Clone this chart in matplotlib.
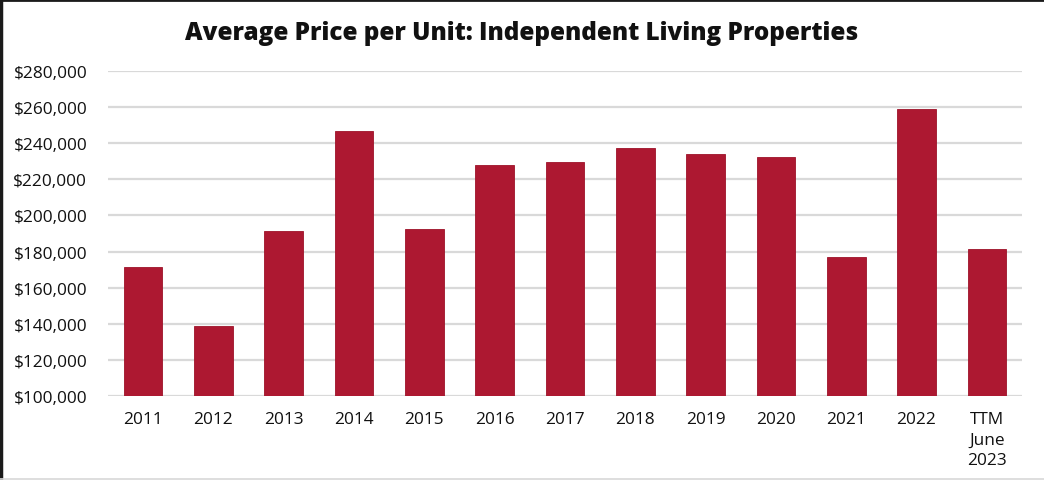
import matplotlib
matplotlib.use("Agg")
import matplotlib.pyplot as plt
from matplotlib.lines import Line2D
from matplotlib.ticker import FuncFormatter

categories = ["2011", "2012", "2013", "2014", "2015", "2016", "2017", "2018",
              "2019", "2020", "2021", "2022", "TTM\nJune\n2023"]
values = [171200, 138900, 191600, 247000, 192700, 227700, 229700, 237600,
          234000, 232100, 177000, 259000, 181300]
yticks = [100000, 120000, 140000, 160000, 180000, 200000, 220000, 240000, 260000, 280000]

plt.rcParams['font.family'] = ['Open Sans', 'DejaVu Sans']

fig = plt.figure(figsize=(10.44, 4.81), dpi=100)
ax = fig.add_axes([108/1044, 1-397/481, (1022-108)/1044, (397-72)/481])

x = list(range(len(categories)))
ax.bar(x, values, width=0.55, color="#AD1831", edgecolor="#9E1229", linewidth=0.6, zorder=3)

ax.set_xlim(-0.5, len(categories)-0.5)
ax.set_ylim(100000, 280000)
ax.set_yticks(yticks)
ax.yaxis.set_major_formatter(FuncFormatter(lambda v, p: "${:,.0f}".format(v)))
ax.set_xticks(x)
ax.set_xticklabels(categories, linespacing=1.38)
ax.grid(axis='y', color="#D9D9D9", linewidth=1.6, zorder=0)
for s in ax.spines.values():
    s.set_visible(False)
ax.tick_params(axis='both', length=0, labelsize=12.4, colors="#111111")
ax.tick_params(axis='y', pad=15)
ax.tick_params(axis='x', pad=11)

fig.text(0.5, 1-34/481, "Average Price per Unit: Independent Living Properties",
         ha='center', va='center', fontsize=17.5, fontweight='heavy', color="#111111")

# frame lines of the figure
fig.add_artist(Line2D([0, 1], [1-1/481, 1-1/481], transform=fig.transFigure, color="#1a1a1a", linewidth=2))
fig.add_artist(Line2D([1/1044, 1/1044], [0, 1], transform=fig.transFigure, color="#1a1a1a", linewidth=2.5))
fig.add_artist(Line2D([0, 1], [1/481, 1/481], transform=fig.transFigure, color="#d8d8d8", linewidth=1.2))

fig.savefig("out.png", dpi=100)
